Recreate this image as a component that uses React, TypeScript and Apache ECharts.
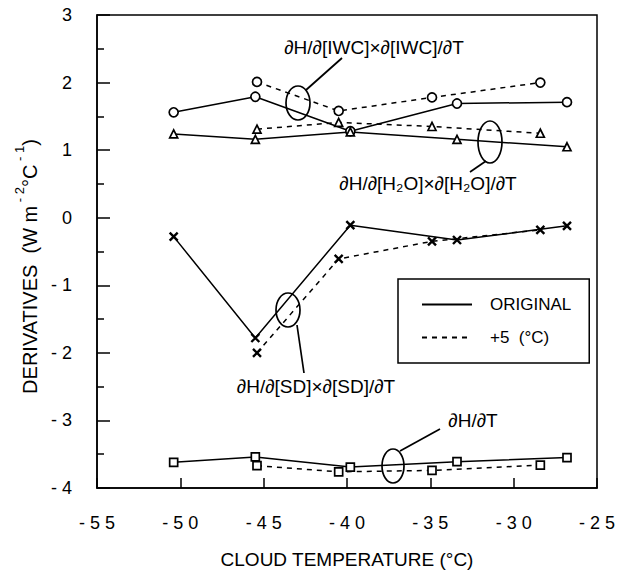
import React, { useEffect, useRef } from "react";
import * as echarts from "echarts";

// Cloud temperature (°C) of each case
const tempOriginal = [-50.4, -45.5, -39.8, -33.4, -26.8];
const tempPlus5 = [-45.4, -40.5, -34.9, -28.4];

// ∂H/∂[IWC]×∂[IWC]/∂T
const iwcOriginal = [1.56, 1.79, 1.28, 1.69, 1.71];
const iwcPlus5 = [2.01, 1.58, 1.78, 2.0];
// ∂H/∂[H2O]×∂[H2O]/∂T
const h2oOriginal = [1.24, 1.16, 1.27, 1.16, 1.05];
const h2oPlus5 = [1.31, 1.41, 1.35, 1.25];
// ∂H/∂[SD]×∂[SD]/∂T
const sdOriginal = [-0.28, -1.78, -0.11, -0.33, -0.12];
const sdPlus5 = [-2.0, -0.61, -0.35, -0.18];
// ∂H/∂T
const totalOriginal = [-3.62, -3.54, -3.69, -3.61, -3.55];
const totalPlus5 = [-3.67, -3.76, -3.74, -3.66];

const yTicks = [-4, -3, -2, -1, 0, 1, 2, 3];
const xTicks = [-55, -50, -45, -40, -35, -30, -25];

const legendNames = ["ORIGINAL", "+5  (°C)"];

const FONT = "'Liberation Sans', Arial, Helvetica, sans-serif";
const X_SYMBOL = "path://M0,0L10,10M10,0L0,10";

function pairs(xs: number[], ys: number[]) {
  return xs.map((x, i) => [x, ys[i]]);
}

function mk(name: string, xs: number[], ys: number[], symbol: string, size: number, dashed: boolean) {
  const isX = symbol === X_SYMBOL;
  return {
    type: "line",
    name,
    data: pairs(xs, ys),
    symbol,
    symbolSize: size,
    showSymbol: true,
    lineStyle: { color: "#000", width: 1.5, type: dashed ? [5, 5] : "solid" },
    itemStyle: { color: isX ? "none" : "#fff", borderColor: "#000", borderWidth: isX ? 2.4 : 1.7 },
    emphasis: { disabled: true },
    z: 3,
  };
}

export default function App() {
  const ref = useRef<HTMLDivElement>(null);
  useEffect(() => {
    if (!ref.current) return;
    const chart = echarts.init(ref.current, null, { renderer: "svg" });
    const fmtX = (v: number) => (v < 0 ? "- " + String(Math.abs(v)).split("").join(" ") : String(v));
    const fmtY = (v: number) => (v < 0 ? "- " + Math.abs(v) : String(v));
    const annText = (cx: number, cy: number, text: string) => ({
      type: "text",
      x: cx,
      y: cy,
      style: { text, fontSize: 19, fontFamily: FONT, fill: "#000", align: "center", verticalAlign: "middle" },
      z: 10,
    });
    const ell = (cx: number, cy: number, rx: number, ry: number) => ({
      type: "ellipse",
      shape: { cx, cy, rx, ry },
      style: { fill: "none", stroke: "#000", lineWidth: 1.7 },
      z: 10,
    });
    const ln = (x1: number, y1: number, x2: number, y2: number) => ({
      type: "line",
      shape: { x1, y1, x2, y2 },
      style: { stroke: "#000", lineWidth: 1.7 },
      z: 10,
    });
    chart.setOption({
      animation: false,
      backgroundColor: "#fff",
      grid: {
        left: 97,
        right: 24,
        top: 15,
        bottom: 89,
        show: true,
        borderColor: "#000",
        borderWidth: 1.5,
        backgroundColor: "transparent",
      },
      xAxis: {
        type: "value",
        min: xTicks[0],
        max: xTicks[xTicks.length - 1],
        interval: 5,
        name: "CLOUD TEMPERATURE (°C)",
        nameLocation: "middle",
        nameGap: 62,
        nameTextStyle: { fontSize: 19, fontFamily: FONT, color: "#000" },
        axisLine: { onZero: false, lineStyle: { color: "#000", width: 1.5 } },
        axisTick: { inside: true, length: 10, lineStyle: { color: "#000", width: 1.5 } },
        axisLabel: { formatter: fmtX, fontSize: 18, fontFamily: FONT, color: "#000", margin: 26 },
        splitLine: { show: false },
      },
      yAxis: {
        type: "value",
        min: yTicks[0],
        max: yTicks[yTicks.length - 1],
        interval: 1,
        name: "{a|DERIVATIVES  (W m}{s| - 2}{a|°C}{s| - 1}{a|)}",
        nameLocation: "middle",
        nameRotate: 90,
        nameGap: 48,
        nameTextStyle: {
          fontSize: 20,
          fontFamily: FONT,
          color: "#000",
          padding: [0, 30, 0, 0],
          rich: {
            a: { fontSize: 20, fontFamily: FONT, color: "#000", lineHeight: 27, verticalAlign: "bottom" },
            s: { fontSize: 13, fontFamily: FONT, color: "#000", lineHeight: 27, verticalAlign: "top" },
          },
        },
        axisLine: { onZero: false, lineStyle: { color: "#000", width: 1.5 } },
        axisTick: { inside: true, length: 13, lineStyle: { color: "#000", width: 1.5 } },
        minorTick: { show: true, splitNumber: 2, length: 7, lineStyle: { color: "#000", width: 1.5 } },
        axisLabel: { formatter: fmtY, fontSize: 18, fontFamily: FONT, color: "#000", margin: 25 },
        splitLine: { show: false },
      },
      legend: {
        show: true,
        data: legendNames,
        orient: "vertical",
        left: 398,
        top: 279,
        itemWidth: 50,
        itemHeight: 14,
        itemGap: 16,
        padding: [17, 18, 17, 23],
        borderColor: "#000",
        borderWidth: 1.5,
        backgroundColor: "#fff",
        selectedMode: false,
        itemStyle: { color: "rgba(0,0,0,0)", borderWidth: 0, opacity: 0 },
        textStyle: { fontSize: 17, fontFamily: FONT, color: "#000", padding: [0, 0, 0, 13] },
      },
      series: [
        { type: "line", name: legendNames[0], data: [], symbol: "none", lineStyle: { color: "#000", width: 1.5, type: "solid" }, itemStyle: { color: "rgba(0,0,0,0)", borderWidth: 0 } },
        { type: "line", name: legendNames[1], data: [], symbol: "none", lineStyle: { color: "#000", width: 1.5, type: [5, 5] }, itemStyle: { color: "rgba(0,0,0,0)", borderWidth: 0 } },
        mk("iwc-orig", tempOriginal, iwcOriginal, "circle", 9, false),
        mk("iwc-p5", tempPlus5, iwcPlus5, "circle", 9, true),
        mk("h2o-orig", tempOriginal, h2oOriginal, "triangle", 8, false),
        mk("h2o-p5", tempPlus5, h2oPlus5, "triangle", 8, true),
        mk("sd-orig", tempOriginal, sdOriginal, X_SYMBOL, 8, false),
        mk("sd-p5", tempPlus5, sdPlus5, X_SYMBOL, 8, true),
        mk("t-orig", tempOriginal, totalOriginal, "rect", 8, false),
        mk("t-p5", tempPlus5, totalPlus5, "rect", 8, true),
      ],
      graphic: [
        annText(374, 47, "∂H/∂[IWC]×∂[IWC]/∂T"),
        ell(298, 103, 12, 17),
        ln(306, 90, 342, 58),
        annText(428, 183, "∂H/∂[H₂O]×∂[H₂O]/∂T"),
        ell(490, 142, 12, 21),
        ln(486, 161, 470, 172),
        annText(316, 386, "∂H/∂[SD]×∂[SD]/∂T"),
        ell(288, 310, 12, 17),
        ln(297, 325, 304, 373),
        annText(473, 420, "∂H/∂T"),
        ell(393, 466, 11, 17),
        ln(400, 451, 440, 429),
      ],
    });
    return () => chart.dispose();
  }, []);
  return (
    <div
      ref={ref}
      style={{ position: "fixed", left: 0, top: 0, width: 621, height: 577, background: "#fff" }}
    />
  );
}
